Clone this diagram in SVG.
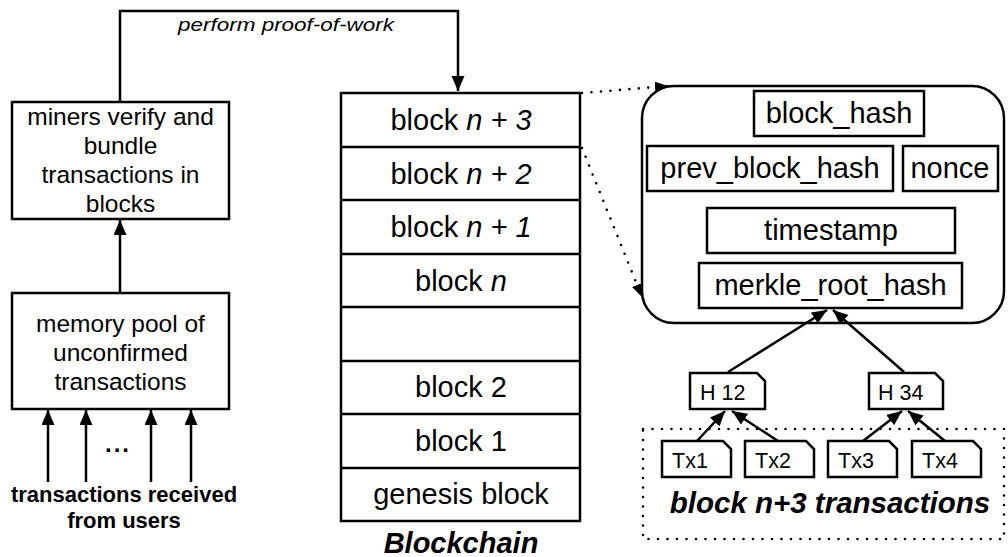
<svg xmlns="http://www.w3.org/2000/svg" width="1008" height="557" viewBox="0 0 1008 557">
<style>
text{font-family:"Liberation Sans",Arial,sans-serif;fill:#000}
.box{fill:#fff;stroke:#000;stroke-width:2.5}
.ln{fill:none;stroke:#000;stroke-width:2.5}
.dot{fill:none;stroke:#000;stroke-width:2.6;stroke-linecap:round;stroke-dasharray:0 9.5}
.c{text-anchor:middle}
.m{font-size:24.5px}
.b{font-size:29px}
.h{font-size:21.5px}
.i{font-style:italic}
</style>
<defs>
<marker id="arr" markerUnits="userSpaceOnUse" markerWidth="16" markerHeight="14" refX="15" refY="6.5" orient="auto">
<path d="M0,0 L15,6.5 L0,13 z" fill="#000"/>
</marker>
<marker id="arrs" markerUnits="userSpaceOnUse" markerWidth="14" markerHeight="12" refX="13" refY="5.5" orient="auto">
<path d="M0,0 L13,5.5 L0,11 z" fill="#000"/>
</marker>
</defs>

<g id="miners">
<rect class="box" x="12" y="102" width="217" height="117"/>
<text class="m c" x="120.5" y="125">miners verify and</text>
<text class="m c" x="120.5" y="154">bundle</text>
<text class="m c" x="120.5" y="183">transactions in</text>
<text class="m c" x="120.5" y="212">blocks</text>
</g>

<g id="mempool">
<rect class="box" x="12" y="293" width="217" height="116"/>
<text class="m c" x="120.5" y="332">memory pool of</text>
<text class="m c" x="120.5" y="361">unconfirmed</text>
<text class="m c" x="120.5" y="390">transactions</text>
</g>

<g id="users">
<text class="c" x="118" y="452" font-size="24" font-weight="bold" letter-spacing="2">...</text>
<text class="c" x="124" y="502" font-size="22" font-weight="bold">transactions received</text>
<text class="c" x="124" y="528" font-size="22" font-weight="bold">from users</text>
</g>

<g id="blockchain">
<rect class="box" x="341" y="93" width="239" height="428"/>
<path class="ln" d="M341,147 H580 M341,200 H580 M341,254 H580 M341,307 H580 M341,361 H580 M341,414 H580 M341,468 H580"/>
<text class="b c" x="461" y="130">block <tspan class="i">n + 3</tspan></text>
<text class="b c" x="461" y="184">block <tspan class="i">n + 2</tspan></text>
<text class="b c" x="461" y="237">block <tspan class="i">n + 1</tspan></text>
<text class="b c" x="461" y="291">block <tspan class="i">n</tspan></text>
<text class="b c" x="461" y="397">block 2</text>
<text class="b c" x="461" y="451">block 1</text>
<text class="b c" x="461" y="504">genesis block</text>
<text class="c i" x="461" y="553" font-size="29" font-weight="bold">Blockchain</text>
</g>

<g id="header">
<rect class="box" x="642" y="86" width="362" height="237" rx="32" ry="32"/>
<rect class="box" x="754" y="91" width="170" height="45"/>
<text class="b c" x="839" y="123">block_hash</text>
<rect class="box" x="647" y="146" width="246" height="45"/>
<text class="b c" x="770" y="178">prev_block_hash</text>
<rect class="box" x="903" y="146" width="95" height="45"/>
<text class="b c" x="950" y="178">nonce</text>
<rect class="box" x="707" y="208" width="248" height="45"/>
<text class="b c" x="831" y="240">timestamp</text>
<rect class="box" x="699" y="263" width="263" height="45"/>
<text class="b c" x="830.5" y="295">merkle_root_hash</text>
</g>

<g id="h12">
<path class="box" d="M690,373 H757 L765,381 V409 H690 Z"/>
<text class="h" x="700" y="400">H 12</text>
</g>
<g id="h34">
<path class="box" d="M869,373 H935 L943,381 V409 H869 Z"/>
<text class="h" x="878" y="400">H 34</text>
</g>

<g id="txblock">
<rect class="dot" x="643" y="429" width="361" height="110"/>
<text class="c i" x="830" y="513" font-size="29.5" font-weight="bold">block n+3 transactions</text>
</g>
<g id="tx1">
<path class="box" d="M662,441 H723 L731,449 V477 H662 Z"/>
<text class="h" x="672" y="468">Tx1</text>
</g>
<g id="tx2">
<path class="box" d="M745,441 H806 L814,449 V477 H745 Z"/>
<text class="h" x="755" y="468">Tx2</text>
</g>
<g id="tx3">
<path class="box" d="M828,441 H889 L897,449 V477 H828 Z"/>
<text class="h" x="838" y="468">Tx3</text>
</g>
<g id="tx4">
<path class="box" d="M912,441 H973 L981,449 V477 H912 Z"/>
<text class="h" x="922" y="468">Tx4</text>
</g>

<g id="connectors">
<path class="ln" d="M120,102 V11 H458 V91" marker-end="url(#arr)"/>
<text class="i c" x="286" y="31" font-size="19" textLength="216" lengthAdjust="spacingAndGlyphs">perform proof-of-work</text>
<path class="ln" d="M120,293 V220" marker-end="url(#arr)"/>
<path class="ln" d="M48,482 V410" marker-end="url(#arr)"/>
<path class="ln" d="M86,482 V410" marker-end="url(#arr)"/>
<path class="ln" d="M151,482 V410" marker-end="url(#arr)"/>
<path class="ln" d="M191,482 V410" marker-end="url(#arr)"/>
<path class="dot" d="M582,93 L668,86" marker-end="url(#arrs)"/>
<path class="dot" d="M582,148 L642,297" marker-end="url(#arrs)"/>
<path class="ln" d="M728,372 L827,310" marker-end="url(#arr)"/>
<path class="ln" d="M904,372 L833,310" marker-end="url(#arr)"/>
<path class="ln" d="M697,441 L725,411" marker-end="url(#arr)"/>
<path class="ln" d="M778,441 L732,411" marker-end="url(#arr)"/>
<path class="ln" d="M863,441 L902,411" marker-end="url(#arr)"/>
<path class="ln" d="M945,441 L908,411" marker-end="url(#arr)"/>
</g>
</svg>
